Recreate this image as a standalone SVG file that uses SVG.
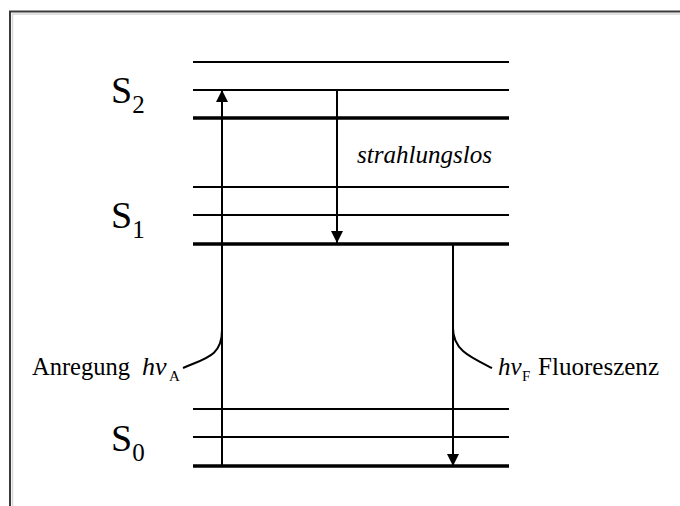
<svg xmlns="http://www.w3.org/2000/svg" width="680" height="506" viewBox="0 0 680 506">
<style>
.lv{stroke:#000;stroke-width:2;fill:none}
.lvb{stroke:#000;stroke-width:3.5;fill:none}
.ar{stroke:#000;stroke-width:2;fill:none}
.t{fill:#000}
.i{font-style:italic}
</style>
<defs>
<marker id="ah" markerWidth="12" markerHeight="12" refX="12" refY="6" orient="auto" markerUnits="userSpaceOnUse">
<path d="M0,0 L12,6 L0,12 Z" fill="#000"/>
</marker>
</defs>
<rect x="0" y="0" width="680" height="506" fill="#fff"/>
<g id="frame">
<path d="M10,506 V11.5 H680" stroke="#3a3a3a" stroke-width="2" fill="none"/>
<path d="M12.5,506 V14 H680" stroke="#d8d8d8" stroke-width="1.5" fill="none"/>
</g>
<g id="S2">
<line class="lv" x1="193" y1="62" x2="509" y2="62"/>
<line class="lv" x1="193" y1="90" x2="509" y2="90"/>
<line class="lvb" x1="193" y1="118" x2="509" y2="118"/>
<text class="t" font-family="'Liberation Serif', 'DejaVu Serif', serif" x="111" y="103" font-size="38">S<tspan font-size="25" dy="10">2</tspan></text>
</g>
<g id="S1">
<line class="lv" x1="193" y1="187" x2="509" y2="187"/>
<line class="lv" x1="193" y1="215" x2="509" y2="215"/>
<line class="lvb" x1="193" y1="244" x2="509" y2="244"/>
<text class="t" font-family="'Liberation Serif', 'DejaVu Serif', serif" x="111" y="228" font-size="38">S<tspan font-size="25" dy="10">1</tspan></text>
</g>
<g id="S0">
<line class="lv" x1="193" y1="409" x2="509" y2="409"/>
<line class="lv" x1="193" y1="437" x2="509" y2="437"/>
<line class="lvb" x1="193" y1="466" x2="509" y2="466"/>
<text class="t" font-family="'Liberation Serif', 'DejaVu Serif', serif" x="111" y="451" font-size="38">S<tspan font-size="25" dy="10">0</tspan></text>
</g>
<g id="connectors">
<line class="ar" x1="222" y1="466" x2="222" y2="90" marker-end="url(#ah)"/>
<line class="ar" x1="337" y1="90" x2="337" y2="243" marker-end="url(#ah)"/>
<line class="ar" x1="453" y1="244" x2="453" y2="466" marker-end="url(#ah)"/>
<path class="ar" d="M183,368 C206,358 222,356 222,330"/>
<path class="ar" d="M453,328 C453,350 470,357 492,368"/>
</g>
<g id="label-strahlungslos">
<text class="t i" font-family="'Liberation Serif', 'DejaVu Serif', serif" x="357" y="163" font-size="25" textLength="135" lengthAdjust="spacingAndGlyphs">strahlungslos</text>
</g>
<g id="label-anregung">
<text class="t" font-family="'Liberation Serif', 'DejaVu Serif', serif" x="32" y="375" font-size="25" textLength="98" lengthAdjust="spacingAndGlyphs">Anregung</text>
<text class="t i" font-family="'Liberation Serif', 'DejaVu Serif', serif" x="142" y="375" font-size="26">hν</text>
<text class="t" font-family="'Liberation Serif', 'DejaVu Serif', serif" x="169" y="381" font-size="15">A</text>
</g>
<g id="label-fluoreszenz">
<text class="t i" font-family="'Liberation Serif', 'DejaVu Serif', serif" x="498" y="375" font-size="25">hν</text>
<text class="t" font-family="'Liberation Serif', 'DejaVu Serif', serif" x="522" y="381" font-size="15">F</text>
<text class="t" font-family="'Liberation Serif', 'DejaVu Serif', serif" x="538" y="375" font-size="25" textLength="121" lengthAdjust="spacingAndGlyphs">Fluoreszenz</text>
</g>
</svg>
